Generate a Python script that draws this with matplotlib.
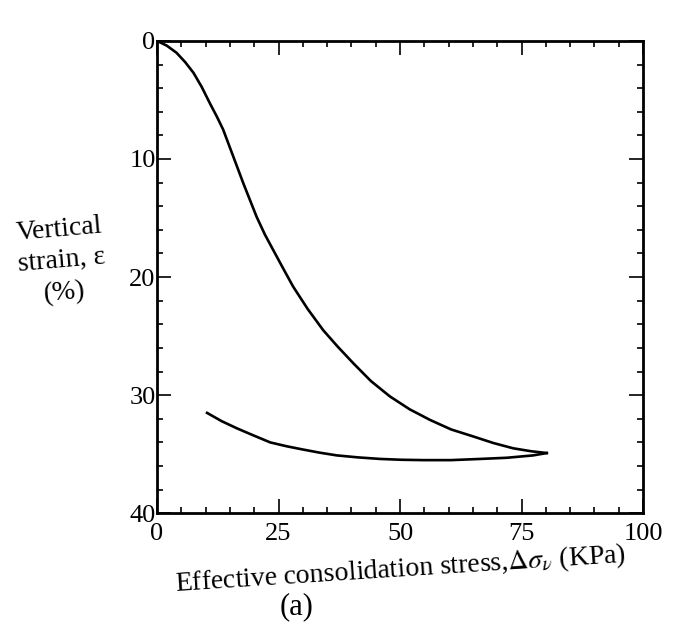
import numpy as np
import matplotlib.pyplot as plt
from matplotlib.ticker import MultipleLocator

plt.rcParams['font.family'] = ['Liberation Serif', 'DejaVu Serif']
plt.rcParams['mathtext.fontset'] = 'stix'

# loading branch (stress in kPa, strain in %)
load_stress = [0, 2.0, 4.0, 5.8, 7.5, 9.2, 10.9, 12.3, 13.6, 15.7, 17.8, 20.5,
               22.2, 23.9, 26.0, 28.0, 31.0, 34.2, 37.2, 40.4, 44.0, 47.9,
               52.0, 56.2, 60.5, 65.1, 69.2, 73.3, 77.0, 80.2]
load_strain = [0, 0.4, 1.0, 1.8, 2.7, 3.9, 5.3, 6.4, 7.5, 9.8, 12.1, 14.9,
               16.4, 17.7, 19.3, 20.8, 22.7, 24.5, 25.9, 27.3, 28.8, 30.1,
               31.2, 32.1, 32.9, 33.5, 34.05, 34.5, 34.75, 34.9]

# unloading branch
unload_stress = [80.2, 77.4, 72.0, 66.5, 60.5, 54.8, 50.3, 45.9, 41.4, 37.0,
                 33.5, 30.0, 26.6, 23.3, 19.8, 16.4, 13.3, 10.3]
unload_strain = [34.9, 35.1, 35.3, 35.4, 35.5, 35.5, 35.47, 35.4, 35.27, 35.1,
                 34.87, 34.6, 34.32, 34.0, 33.4, 32.8, 32.2, 31.5]

xticks = [0, 25, 50, 75, 100]
yticks = [0, 10, 20, 30, 40]

fig = plt.figure(figsize=(6.75, 6.29), dpi=100)
ax = fig.add_axes([0.2326, 0.184, 0.72, 0.751])

ax.plot(load_stress, load_strain, color='black', lw=1.9, solid_joinstyle='round')
ax.plot(unload_stress, unload_strain, color='black', lw=1.9, solid_joinstyle='round')

ax.set_xlim(0, 100)
ax.set_ylim(40, 0)
ax.set_xticks(xticks)
ax.set_yticks(yticks)
ax.xaxis.set_minor_locator(MultipleLocator(5))
ax.yaxis.set_minor_locator(MultipleLocator(2))
ax.tick_params(which='both', direction='in', top=True, right=True, labelsize=19)
ax.tick_params(which='major', length=10, width=1.2)
ax.tick_params(which='minor', length=4, width=1.2)
ax.tick_params(axis='y', pad=1)
ax.tick_params(axis='x', pad=7)
for s in ax.spines.values():
    s.set_linewidth(2)

fig.text(0.593, 0.094, r'Effective consolidation stress,$\Delta\sigma_{\nu}$ (KPa)',
         ha='center', va='center', fontsize=20, rotation=3.7)
fig.text(0.44, 0.036, '(a)', ha='center', va='center', fontsize=22)
fig.text(0.092, 0.585, 'Vertical\nstrain, ε\n(%)', ha='center', va='center',
         fontsize=20, rotation=5, linespacing=1.35)

plt.savefig('out.png', dpi=100)
